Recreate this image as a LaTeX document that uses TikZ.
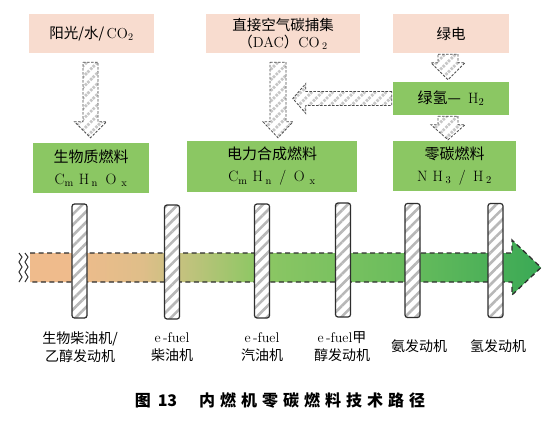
\documentclass[tikz,border=0pt]{standalone}
\usepackage{fontspec}
\newfontfamily\cjk{Noto Sans CJK SC}
\usetikzlibrary{patterns.meta,calc}
\definecolor{pinkbox}{HTML}{F8DCCF}
\definecolor{greenbox}{HTML}{8BC763}
\definecolor{cO}{HTML}{EFBB8C}
\definecolor{cT}{HTML}{DFBE89}
\definecolor{cY}{HTML}{BCC37B}
\definecolor{cG1}{HTML}{8EC764}
\definecolor{cG2}{HTML}{6BBD5D}
\definecolor{cG3}{HTML}{3AA955}
\definecolor{edge}{HTML}{2E2E2E}
\pgfdeclarehorizontalshading{bandshade}{100bp}{color(0bp)=(cO); color(25bp)=(cO); color(29bp)=(cO); color(36bp)=(cT); color(41bp)=(cY); color(47bp)=(cG1); color(61bp)=(cG2); color(75bp)=(cG3); color(100bp)=(cG3)}
\tikzset{
  pinkb/.style={rectangle, fill=pinkbox, inner sep=0pt, align=center, font=\fontsize{14.5}{17}\selectfont},
  greenb/.style={rectangle, fill=greenbox, inner sep=0pt, align=center, font=\fontsize{15}{22}\selectfont},
  blk/.style={preaction={fill=white}, pattern={Lines[angle=45,distance=7.5pt,line width=2.8pt]}, pattern color=black!22, draw=black!70, dash pattern=on 2.5pt off 1.5pt, line width=0.8pt},
  barbox/.style={rectangle, rounded corners=2.5pt, minimum width=15pt, minimum height=114pt, inner sep=0pt, preaction={fill=white}, pattern={Lines[angle=45,distance=7.5pt,line width=2.6pt]}, pattern color=black!28, draw=edge, line width=1.2pt},
  lbl/.style={align=center, inner sep=0pt, font=\fontsize{14}{18}\selectfont},
  bandline/.style={draw=edge, line width=1.3pt, dash pattern=on 5pt off 3.5pt},
}
\newcommand\varrow[5]{\path[blk] let \p1=(#1), \p2=(#2) in (\x1-#3,\y1) -- (\x1+#3,\y1) -- (\x1+#3,\y2+#5) -- (\x1+#4,\y2+#5) -- (\x2,\y2) -- (\x1-#4,\y2+#5) -- (\x1-#3,\y2+#5) -- cycle;}
\begin{document}
\begin{tikzpicture}[x=1pt,y=-1pt]
\useasboundingbox[fill=white] (0,0) rectangle (556,425);
% top boxes
\node[pinkb, minimum width=125pt, minimum height=39pt] (p1) at (91.5,33.5) {{\cjk 阳光/水/}\,CO\textsubscript{2}};
\node[pinkb, minimum width=154pt, minimum height=39pt] (p2) at (283,33.5) {{\cjk 直接空气碳捕集}\\{\cjk （}DAC{\cjk ）}CO\,\textsubscript{2}};
\node[pinkb, minimum width=116pt, minimum height=39pt] (p3) at (451,33.5) {\cjk 绿电};
\node[greenb, minimum width=116pt, minimum height=33pt] (h2) at (451,98.5) {{\cjk 绿氢—}\, H\textsubscript{2}};
% green boxes
\node[greenb, minimum width=116pt, minimum height=50pt] (g1) at (91,168) {{\cjk 生物质燃料}\\C\textsubscript{m}\,\,H\,\textsubscript{n}\,\,\,O\,\,\textsubscript{x}};
\node[greenb, minimum width=170pt, minimum height=51pt] (g2) at (272,166.5) {{\cjk 电力合成燃料}\\C\textsubscript{m}\,\,H\,\textsubscript{n}\,\,\,/\,\,\,O\,\,\textsubscript{x}};
\node[greenb, minimum width=123pt, minimum height=50pt] (g3) at (454.5,166) {{\cjk 零碳燃料}\\N\,\,H\,\textsubscript{3}\,\,\,/\,\,\,H\,\textsubscript{2}};
% block arrows
\coordinate (a1s) at ($(p1.south)+(-1,9)$);
\coordinate (a1e) at ($(g1.north)+(-0.5,-5)$);
\varrow{a1s}{a1e}{7.5pt}{16pt}{16pt}
\coordinate (a2s) at ($(p2.south)+(-5,9)$);
\coordinate (a2e) at ($(g2.north)+(6,-3)$);
\varrow{a2s}{a2e}{8pt}{15pt}{16pt}
\coordinate (a3s) at ($(p3.south)+(-3,1)$);
\coordinate (a3e) at ($(h2.north)+(-3,-2)$);
\varrow{a3s}{a3e}{10pt}{17pt}{17pt}
\coordinate (a4s) at ($(h2.south)+(-3,1)$);
\coordinate (a4e) at ($(g3.north)+(-6.5,-1)$);
\varrow{a4s}{a4e}{10pt}{17pt}{15pt}
\coordinate (tipH) at ($(h2.west)+(-100,0)$);
\path[blk] let \p1=(h2.west), \p2=(tipH) in (\x1-1pt,\y1+7pt) -- (\x2+13pt,\y1+7pt) -- (\x2+13pt,\y1+15pt) -- (\x2,\y1) -- (\x2+13pt,\y1-15pt) -- (\x2+13pt,\y1-7pt) -- (\x1-1pt,\y1-7pt) -- cycle;
% band
\coordinate (be) at (541,267.5);
\shade[shading=bandshade] (30,253) -- (512,253) -- (512,240) -- (be) -- (512,295) -- (512,282) -- (30,282) -- cycle;
\draw[bandline] (30,253) -- (512,253) -- (512,240) -- (be) -- (512,295) -- (512,282) -- (30,282);
\draw[edge, line width=1pt] (19,253) -- (22,257) -- (19,262) -- (22,267) -- (19,272) -- (22,277) -- (19,282);
\draw[edge, line width=1pt] (25,253) -- (28,257) -- (25,262) -- (28,267) -- (25,272) -- (28,277) -- (25,282);
% bars
\node[barbox] (b1) at (79.5,261) {};
\node[barbox] (b2) at (172,262) {};
\node[barbox] (b3) at (262,261) {};
\node[barbox] (b4) at (343,260) {};
\node[barbox] (b5) at (412.5,260.5) {};
\node[barbox] (b6) at (495.5,260.5) {};
% labels
\node[lbl] (l1) at (80,347) {{\cjk 生物柴油机/}\\{\cjk 乙醇发动机}};
\node[lbl] (l2) at (172,347) {e\,-fuel\\{\cjk 柴油机}};
\node[lbl] (l3) at (262,347) {e\,-fuel\\{\cjk 汽油机}};
\node[lbl] (l4) at (342,347) {e\,-fuel{\cjk 甲}\\{\cjk 醇发动机}};
\node[lbl] (l5) at (419,346) {\cjk 氨发动机};
\node[lbl] (l6) at (498,346) {\cjk 氢发动机};
% caption
\node[inner sep=0pt, font=\cjk\bfseries\fontsize{16}{18}\selectfont] (cap) at (280,401) {图\hspace{7pt}13\hspace{22pt}内\hspace{5pt}燃\hspace{5pt}机\hspace{5pt}零\hspace{5pt}碳\hspace{5pt}燃\hspace{5pt}料\hspace{5pt}技\hspace{5pt}术\hspace{5pt}路\hspace{5pt}径};
\end{tikzpicture}
\end{document}
